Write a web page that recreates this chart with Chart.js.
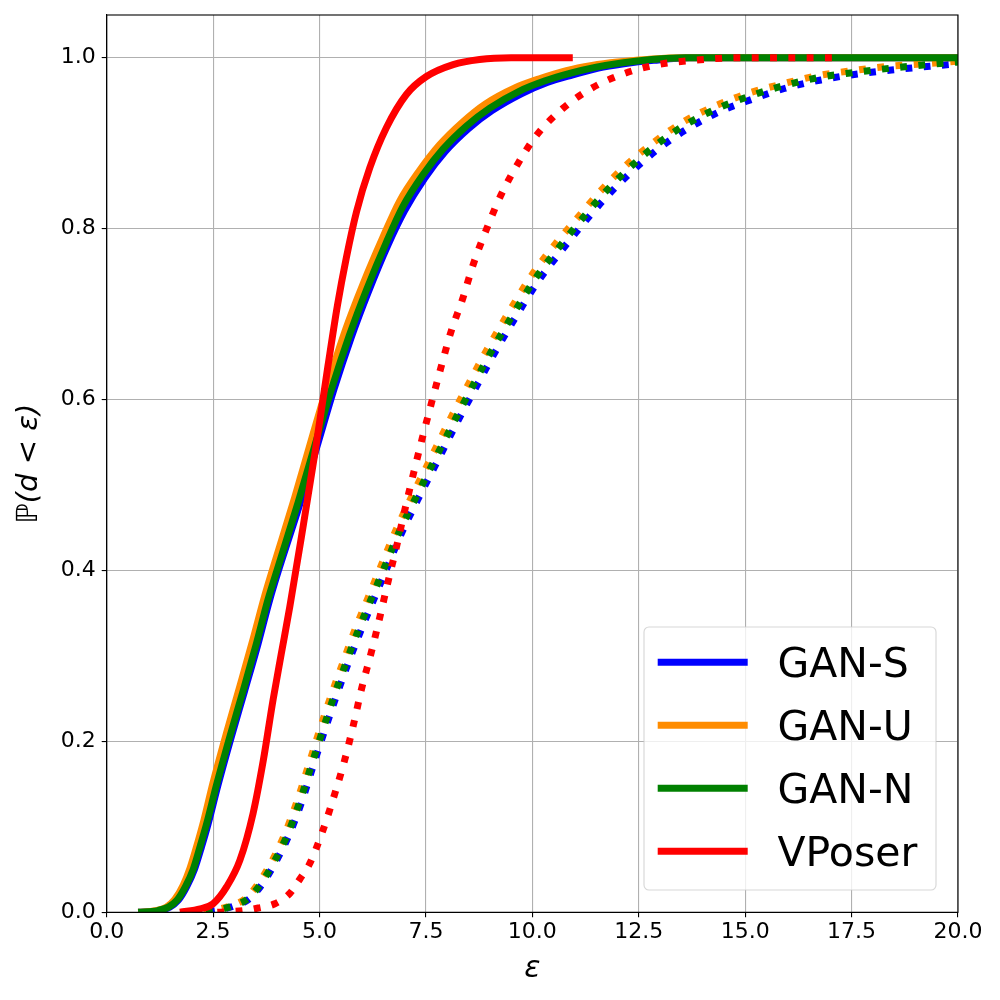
<!DOCTYPE html>
<html>
<head>
<meta charset="utf-8">
<script src="https://cdn.jsdelivr.net/npm/chart.js@4/dist/chart.umd.min.js"></script>
<style>
html,body{margin:0;padding:0;background:#ffffff;}
#wrap{width:1000px;height:1000px;}
</style>
</head>
<body>
<div id="wrap"><canvas id="c" width="1000" height="1000"></canvas></div>
<script>
// ---- data ----
const seriesNames = ['GAN-S', 'GAN-U', 'GAN-N', 'VPoser'];
const seriesColors = ['#0000ff', '#ff8c00', '#008000', '#ff0000'];
const xTickValues = [0, 2.5, 5, 7.5, 10, 12.5, 15, 17.5, 20];
const yTickValues = [0, 0.2, 0.4, 0.6, 0.8, 1.0];
const xLabel = 'ε';
const yLabel = 'ℙ(d < ε)';

// solid curves [epsilon, P]
const ganS_solid = [[0.74,0],[1.22,0.002],[1.48,0.006],[1.68,0.014],[1.88,0.03],[2.06,0.05],[2.23,0.077],[2.38,0.103],[2.61,0.148],[2.92,0.204],[3.24,0.259],[3.55,0.313],[3.82,0.364],[4.03,0.399],[4.54,0.478],[4.97,0.55],[5.34,0.612],[5.74,0.672],[6.14,0.725],[6.61,0.781],[7.0,0.821],[7.47,0.859],[7.95,0.89],[8.5,0.917],[9.05,0.938],[9.75,0.958],[10.35,0.971],[10.95,0.98],[11.55,0.988],[12.15,0.993],[12.85,0.997],[13.7,1.0],[20,1.0]];
const ganU_solid = [[0.74,0],[1.15,0.002],[1.4,0.006],[1.6,0.015],[1.8,0.032],[1.96,0.052],[2.13,0.08],[2.28,0.107],[2.5,0.152],[2.81,0.209],[3.13,0.265],[3.44,0.32],[3.71,0.37],[3.92,0.405],[4.42,0.486],[4.85,0.56],[5.22,0.622],[5.62,0.683],[6.02,0.735],[6.49,0.79],[6.88,0.832],[7.35,0.868],[7.82,0.898],[8.37,0.925],[8.9,0.946],[9.6,0.965],[10.2,0.976],[10.8,0.985],[11.4,0.991],[12.0,0.995],[12.7,0.998],[13.5,1.0],[20,1.0]];
const ganN_solid = [[0.74,0],[1.2,0.002],[1.45,0.006],[1.65,0.014],[1.85,0.03],[2.03,0.05],[2.2,0.078],[2.35,0.104],[2.58,0.149],[2.89,0.205],[3.21,0.26],[3.52,0.315],[3.79,0.366],[4.0,0.4],[4.5,0.48],[4.93,0.553],[5.3,0.615],[5.7,0.675],[6.1,0.728],[6.57,0.784],[6.96,0.826],[7.43,0.863],[7.9,0.893],[8.45,0.92],[9.0,0.941],[9.7,0.961],[10.3,0.973],[10.9,0.982],[11.5,0.989],[12.1,0.994],[12.8,0.998],[13.6,1.0],[20,1.0]];
const vposer_solid = [[1.72,0],[2.2,0.004],[2.5,0.01],[2.82,0.03],[3.13,0.061],[3.44,0.116],[3.68,0.178],[3.91,0.249],[4.1,0.302],[4.3,0.357],[4.6,0.447],[4.9,0.54],[5.2,0.64],[5.42,0.71],[5.63,0.766],[5.87,0.82],[6.18,0.871],[6.57,0.918],[7.04,0.957],[7.51,0.978],[8.14,0.992],[8.76,0.998],[9.5,1.0],[10.95,1.0]];

// dotted curves [epsilon, P]
const ganS_dotted = [[1.95,0],[2.55,0.002],[2.97,0.007],[3.36,0.016],[3.64,0.032],[3.95,0.057],[4.27,0.089],[4.58,0.129],[4.81,0.165],[5.05,0.202],[5.36,0.248],[5.67,0.291],[5.95,0.327],[6.24,0.362],[6.61,0.406],[6.92,0.443],[7.31,0.483],[7.71,0.522],[8.26,0.576],[8.65,0.612],[9.04,0.648],[9.47,0.685],[10.13,0.738],[10.68,0.774],[11.15,0.803],[11.7,0.835],[12.32,0.866],[12.95,0.893],[13.65,0.917],[14.36,0.936],[15.14,0.951],[15.92,0.964],[16.78,0.974],[17.64,0.981],[18.5,0.986],[19.34,0.99],[20,0.993]];
const ganU_dotted = [[1.85,0],[2.45,0.002],[2.87,0.007],[3.26,0.016],[3.54,0.032],[3.85,0.057],[4.17,0.09],[4.48,0.131],[4.71,0.167],[4.95,0.205],[5.26,0.252],[5.57,0.295],[5.85,0.333],[6.14,0.368],[6.5,0.412],[6.82,0.45],[7.2,0.49],[7.6,0.53],[8.15,0.585],[8.54,0.622],[8.93,0.658],[9.36,0.695],[10.02,0.748],[10.57,0.784],[11.05,0.812],[11.6,0.844],[12.22,0.875],[12.85,0.901],[13.55,0.925],[14.27,0.943],[15.05,0.958],[15.85,0.969],[16.7,0.979],[17.55,0.985],[18.4,0.99],[19.25,0.993],[20,0.996]];
const ganN_dotted = [[1.9,0],[2.5,0.002],[2.93,0.007],[3.32,0.016],[3.6,0.032],[3.91,0.057],[4.23,0.089],[4.54,0.13],[4.77,0.166],[5.01,0.203],[5.32,0.25],[5.63,0.293],[5.91,0.33],[6.2,0.365],[6.57,0.409],[6.88,0.446],[7.27,0.486],[7.67,0.526],[8.22,0.58],[8.61,0.617],[9.0,0.653],[9.43,0.69],[10.09,0.743],[10.64,0.779],[11.11,0.808],[11.66,0.84],[12.28,0.871],[12.91,0.898],[13.61,0.922],[14.32,0.94],[15.1,0.955],[15.88,0.967],[16.74,0.977],[17.6,0.983],[18.46,0.988],[19.3,0.992],[20,0.995]];
const vposer_dotted = [[2.6,0],[3.2,0.002],[3.56,0.005],[3.95,0.01],[4.3,0.022],[4.54,0.039],[4.77,0.057],[5.08,0.096],[5.36,0.139],[5.59,0.178],[5.79,0.218],[5.99,0.262],[6.22,0.305],[6.42,0.346],[6.61,0.387],[6.81,0.428],[7.0,0.47],[7.2,0.512],[7.41,0.554],[7.63,0.596],[7.85,0.637],[8.08,0.678],[8.37,0.719],[8.61,0.758],[8.92,0.799],[9.26,0.839],[9.66,0.876],[10.11,0.91],[10.7,0.94],[11.38,0.964],[12.13,0.981],[12.95,0.992],[13.81,0.997],[14.8,1.0],[17.3,1.0]];

const solidSeries = [ganS_solid, ganU_solid, ganN_solid, vposer_solid];
const dottedSeries = [ganS_dotted, ganU_dotted, ganN_dotted, vposer_dotted];

// ---- build datasets ----
const toXY = arr => arr.map(p => ({x: p[0], y: p[1]}));
const datasets = [];
seriesNames.forEach((name, i) => {
  datasets.push({
    label: name,
    data: toXY(solidSeries[i]),
    borderColor: seriesColors[i],
    borderWidth: 7,
    borderCapStyle: 'butt',
    order: 10 - 2 * i,
    clip: 0
  });
  datasets.push({
    label: name + ' (dotted)',
    data: toXY(dottedSeries[i]),
    borderColor: seriesColors[i],
    borderWidth: 7,
    borderDash: [6.9, 11.4],
    borderCapStyle: 'butt',
    order: 9 - 2 * i,
    clip: 0
  });
});

const FONT = 'DejaVu Sans';

const frameAndLegend = {
  id: 'frameAndLegend',
  afterDatasetsDraw(chart) {
    const {ctx, chartArea: a} = chart;
    ctx.save();
    ctx.strokeStyle = '#000000';
    ctx.lineWidth = 1.1;
    ctx.strokeRect(a.left, a.top, a.right - a.left, a.bottom - a.top);

    // legend box
    const bx = 644, by = 627, bw = 292, bh = 263, r = 5;
    ctx.beginPath();
    ctx.moveTo(bx + r, by);
    ctx.lineTo(bx + bw - r, by);
    ctx.arcTo(bx + bw, by, bx + bw, by + r, r);
    ctx.lineTo(bx + bw, by + bh - r);
    ctx.arcTo(bx + bw, by + bh, bx + bw - r, by + bh, r);
    ctx.lineTo(bx + r, by + bh);
    ctx.arcTo(bx, by + bh, bx, by + bh - r, r);
    ctx.lineTo(bx, by + r);
    ctx.arcTo(bx, by, bx + r, by, r);
    ctx.closePath();
    ctx.fillStyle = 'rgba(255,255,255,0.8)';
    ctx.fill();
    ctx.strokeStyle = 'rgba(204,204,204,0.8)';
    ctx.lineWidth = 1.1;
    ctx.stroke();

    ctx.font = '41px "' + FONT + '"';
    ctx.textAlign = 'left';
    ctx.textBaseline = 'alphabetic';
    seriesNames.forEach((name, i) => {
      const y = 662.3 + i * 63;
      ctx.strokeStyle = seriesColors[i];
      ctx.lineWidth = 7;
      ctx.lineCap = 'butt';
      ctx.beginPath();
      ctx.moveTo(657.7, y);
      ctx.lineTo(747.7, y);
      ctx.stroke();
      ctx.fillStyle = '#000000';
      ctx.fillText(name, 777.5, y + 15);
    });
    ctx.restore();
  }
};

new Chart(document.getElementById('c'), {
  type: 'line',
  data: { datasets },
  options: {
    responsive: false,
    devicePixelRatio: 1,
    animation: false,
    layout: { padding: { top: 15, right: 42, left: 0, bottom: 0 } },
    elements: {
      point: { radius: 0, hoverRadius: 0 },
      line: { tension: 0, cubicInterpolationMode: 'monotone', fill: false }
    },
    plugins: {
      legend: { display: false },
      tooltip: { enabled: false }
    },
    scales: {
      x: {
        type: 'linear',
        min: 0,
        max: 20,
        afterBuildTicks: s => { s.ticks = xTickValues.map(v => ({ value: v })); },
        afterFit: s => { s.height = 87.7; s.paddingLeft = 0; s.paddingRight = 0; },
        ticks: {
          callback: v => Number(v).toFixed(1),
          font: { family: FONT, size: 22 },
          color: '#000000',
          padding: 2,
          maxRotation: 0,
          autoSkip: false
        },
        grid: { color: '#b0b0b0', lineWidth: 1.1, tickColor: '#000000', tickLength: 5, tickWidth: 1.1 },
        border: { color: '#000000', width: 1.1 },
        title: {
          display: true,
          text: xLabel,
          font: { family: FONT, size: 30, style: 'italic' },
          color: '#000000',
          padding: { top: 0, bottom: 13 }
        }
      },
      y: {
        type: 'linear',
        min: 0,
        max: 1.05,
        afterBuildTicks: s => { s.ticks = yTickValues.map(v => ({ value: v })); },
        afterFit: s => { s.width = 106.7; s.paddingTop = 0; s.paddingBottom = 0; },
        ticks: {
          callback: v => Number(v).toFixed(1),
          font: { family: FONT, size: 22 },
          color: '#000000',
          padding: 6
        },
        grid: { color: '#b0b0b0', lineWidth: 1.1, tickColor: '#000000', tickLength: 5, tickWidth: 1.1 },
        border: { color: '#000000', width: 1.1 },
        title: {
          display: true,
          text: yLabel,
          font: { family: FONT, size: 29, style: 'italic' },
          color: '#000000',
          padding: { top: 12, bottom: 0 }
        }
      }
    }
  },
  plugins: [frameAndLegend]
});
</script>
</body>
</html>
